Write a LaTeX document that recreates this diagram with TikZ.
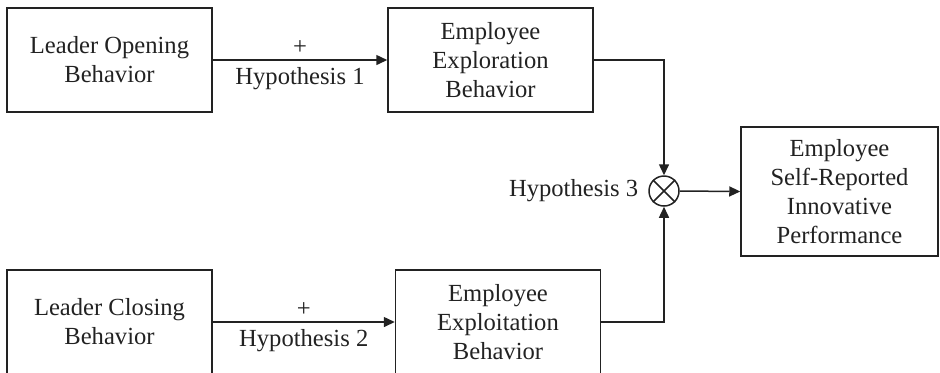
\documentclass[tikz,border=0pt]{standalone}
\usepackage{fontspec}
\setmainfont{Liberation Serif}
\usepackage{tikz}
\usetikzlibrary{arrows.meta, positioning}
\definecolor{inkgray}{HTML}{222222}

\tikzset{
    varbox/.style={draw=inkgray, line width=0.75pt, text=inkgray, align=center,
                   minimum width=102.5pt, minimum height=52pt, inner sep=2pt,
                   font=\fontsize{12.3}{14.5}\selectfont},
    hyplabel/.style={text=inkgray, font=\fontsize{12.3}{14.5}\selectfont},
    flow/.style={draw=inkgray, line width=0.75pt, -{Triangle[length=5.5pt, width=5pt]}}
}

\begin{document}
\begin{tikzpicture}[x=0.5pt, y=-0.5pt]
    \useasboundingbox (0, 0) rectangle (940, 372);

    % antecedents and mediators
    \node[varbox] (open) at (109.5, 60) {Leader Opening\\Behavior};
    \node[varbox] (explore) at (490.5, 60) {Employee\\Exploration\\Behavior};
    \node[varbox] (close) at (109.5, 322) {Leader Closing\\Behavior};
    \node[varbox] (exploit) at (498, 322) {Employee\\Exploitation\\Behavior};

    % interaction and outcome
    \node[draw=inkgray, line width=0.75pt, circle, minimum size=15pt, inner sep=0pt] (cross) at (664, 191) {};
    \draw[inkgray, line width=0.75pt] (cross.north east) -- (cross.south west)
                                      (cross.north west) -- (cross.south east);
    \node[varbox, minimum width=98.5pt, minimum height=64.5pt] (perf) at (839.5, 191.5)
        {Employee\\Self-Reported\\Innovative\\Performance};
    \node[hyplabel, left=1.5pt of cross] (hthree) {Hypothesis 3};

    % paths
    \draw[flow] (open.east) -- node[hyplabel, above, inner sep=2.5pt] (plusone) {+}
                               node[hyplabel, below] (hone) {Hypothesis 1} (explore.west);
    \draw[flow] (close.east) -- node[hyplabel, above, inner sep=2.5pt] (plustwo) {+}
                                node[hyplabel, below] (htwo) {Hypothesis 2} (exploit.west);
    \draw[flow] (explore.east) -| (cross.north);
    \draw[flow] (exploit.east) -| (cross.south);
    \draw[flow] (cross.east) -- (perf.west);
\end{tikzpicture}
\end{document}
